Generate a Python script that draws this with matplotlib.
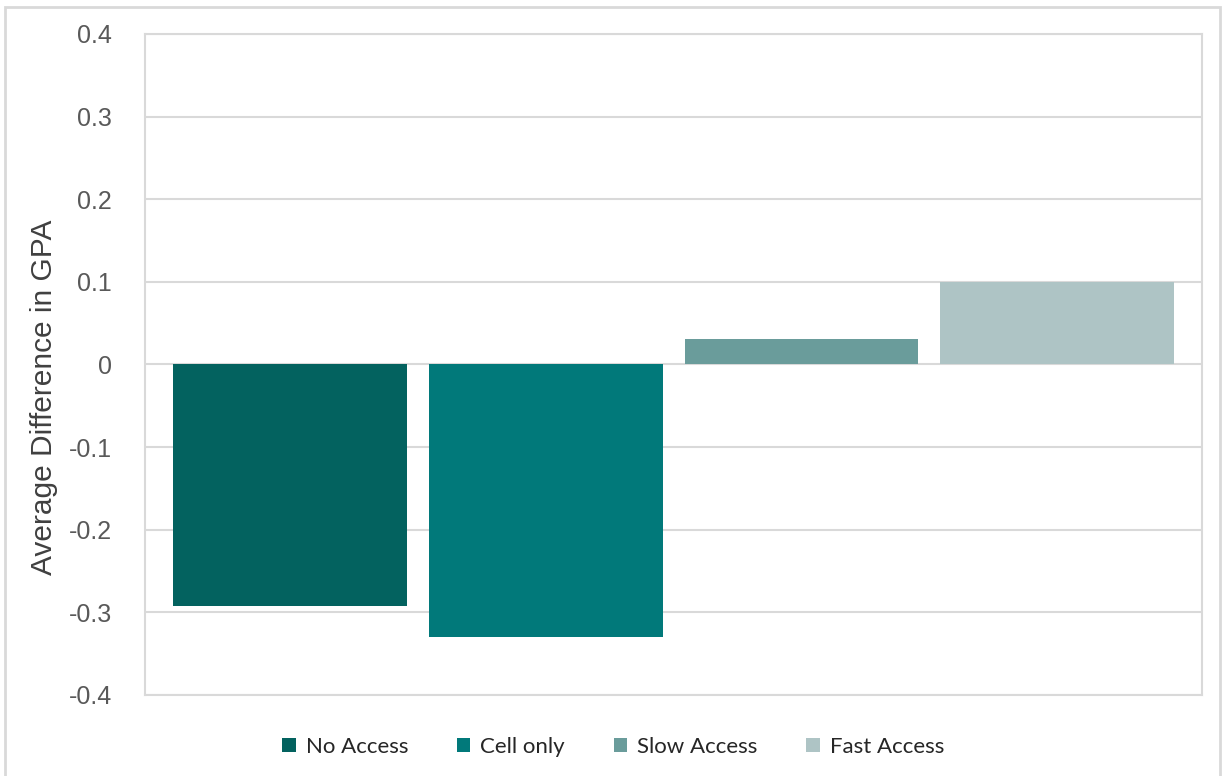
import matplotlib.pyplot as plt
from matplotlib.patches import Rectangle

groups = ["No Access", "Cell only", "Slow Access", "Fast Access"]
gpa_diff = [-0.292, -0.330, 0.031, 0.100]
colors = ["#03625F", "#01797A", "#6A9C9B", "#AEC4C5"]
yticks = [-0.4, -0.3, -0.2, -0.1, 0, 0.1, 0.2, 0.3, 0.4]
ytick_labels = ["-0.4", "-0.3", "-0.2", "-0.1", "0", "0.1", "0.2", "0.3", "0.4"]

fig = plt.figure(figsize=(12.25, 7.76), dpi=100)
ax = fig.add_axes([0.1184, 0.1044, 0.8628, 0.8518])

# thin border around the whole chart
fig.patches.append(Rectangle((0.004, -0.01), 0.992, 1.001, transform=fig.transFigure,
                             fill=False, edgecolor="#d9d9d9", linewidth=2))

for i, (name, val, c) in enumerate(zip(groups, gpa_diff, colors)):
    ax.bar(i, val, width=0.914, color=c, label=name, zorder=3)

ax.set_xlim(-0.566, 3.566)
ax.set_ylim(-0.4, 0.4)
ax.set_yticks(yticks)
ax.set_yticklabels(ytick_labels, fontsize=18, color="#595959", family="Liberation Sans")
ax.set_xticks([])
ax.tick_params(axis="y", length=0, pad=24)
ax.yaxis.grid(True, color="#d9d9d9", linewidth=1.5, zorder=0)
for s in ax.spines.values():
    s.set_color("#d9d9d9")
    s.set_linewidth(1.5)

ax.set_ylabel("Average Difference in GPA", fontsize=21.5, color="#404040",
              family="Liberation Sans")
ax.yaxis.set_label_coords(-0.082, 0.451)

leg = ax.legend(loc="center", bbox_to_anchor=(0.443, -0.079), ncol=4, frameon=False,
                prop={"family": "Lato", "size": 16}, handlelength=0.6, handleheight=0.6,
                columnspacing=2.2, handletextpad=0.45)
for t in leg.get_texts():
    t.set_color("#262626")

plt.savefig("out.png")
